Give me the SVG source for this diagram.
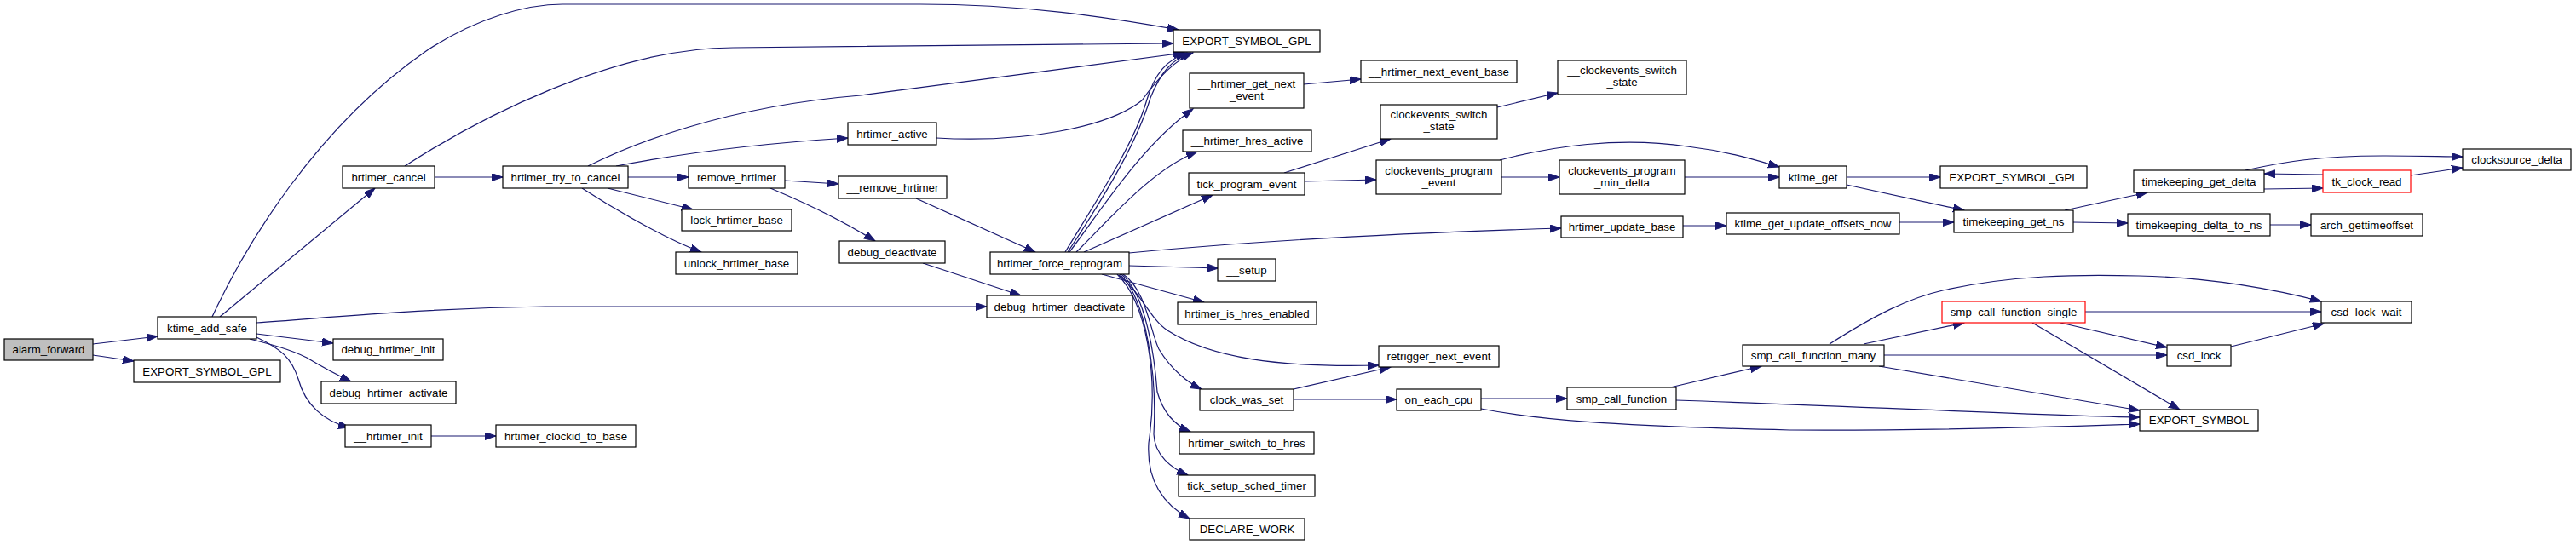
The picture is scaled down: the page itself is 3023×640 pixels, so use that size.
<svg xmlns="http://www.w3.org/2000/svg" width="3023" height="640" viewBox="0 0 3023 640">
<style>
.n rect{fill:#fff;stroke:#000;stroke-width:1.2}
.n.r rect{stroke:#ff0000}
.n.g rect{fill:#bfbfbf}
.n text{font-family:"Liberation Sans",Arial,Helvetica,sans-serif;font-size:13.3px;text-anchor:middle;fill:#000}
#edges path{fill:none;stroke:#191970;stroke-width:1.2;marker-end:url(#a)}
</style>
<defs>
<marker id="a" markerWidth="15" markerHeight="11" refX="13" refY="4.5" orient="auto" markerUnits="userSpaceOnUse"><path d="M0,0 L13,4.5 L0,9 z" fill="#191970" stroke="#191970"/></marker>
</defs>
<rect width="3023" height="640" fill="#fff"/>
<g id="edges">
<path d="M109,404 L185,395"/>
<path d="M109,417 L157,424"/>
<path d="M258,372 L440,221"/>
<path d="M249,372 C287,290 370,150 500,60 C560,20 620,5 660,5 L1080,5 C1200,5 1300,20 1383,35"/>
<path d="M475,195 C560,140 720,56 860,56 C1000,56 1200,52 1377,51"/>
<path d="M510,208 L590,208"/>
<path d="M690,195 C740,170 850,125 1010,112 L1390,62"/>
<path d="M723,195 C800,180 900,168 995,162"/>
<path d="M737,208 L808,208"/>
<path d="M713,221 L813,246"/>
<path d="M683,221 C720,245 780,280 823,296"/>
<path d="M921,212 L984,216"/>
<path d="M904,221 C940,236 990,260 1027,283"/>
<path d="M1099,162 C1200,168 1300,150 1340,118 C1360,90 1380,70 1400,62"/>
<path d="M1075,233 L1215,296"/>
<path d="M1083,309 L1198,347"/>
<path d="M301,379 C400,372 500,362 640,360 L1158,360"/>
<path d="M301,392 L391,403"/>
<path d="M293,398 C320,405 340,410 360,420 C380,432 395,440 412,448"/>
<path d="M301,396 C330,410 342,420 350,445 C358,475 380,495 410,502"/>
<path d="M506,512 L582,512"/>
<path d="M1250,296 C1290,230 1330,170 1345,120 C1355,85 1370,70 1393,62"/>
<path d="M1253,296 C1300,225 1335,165 1350,115 C1362,85 1375,70 1397,62"/>
<path d="M1255,296 C1290,250 1340,170 1400,128"/>
<path d="M1263,296 C1300,260 1350,200 1405,178"/>
<path d="M1272,296 L1423,229"/>
<path d="M1325,297 C1450,285 1600,275 1832,268"/>
<path d="M1325,312 L1430,315"/>
<path d="M1293,322 L1413,355"/>
<path d="M1313,323 C1340,345 1350,375 1370,388 C1420,420 1500,432 1618,429"/>
<path d="M1318,322 C1345,340 1350,390 1360,410 C1375,435 1395,450 1410,457"/>
<path d="M1316,322 C1345,345 1355,420 1358,460 C1365,485 1380,500 1397,507"/>
<path d="M1314,322 C1345,350 1358,440 1354,510 C1355,535 1375,550 1394,558"/>
<path d="M1311,322 C1345,355 1360,440 1348,520 C1345,570 1370,595 1396,609"/>
<path d="M1507,203 L1632,163"/>
<path d="M1531,213 L1615,211"/>
<path d="M1757,126 L1828,109"/>
<path d="M1530,99 L1597,93"/>
<path d="M1762,208 L1830,208"/>
<path d="M1760,188 C1820,172 1900,160 1980,172 C2030,178 2060,188 2088,196"/>
<path d="M1977,208 L2088,208"/>
<path d="M1975,265 L2026,265"/>
<path d="M2167,208 L2277,208"/>
<path d="M2167,217 L2305,247"/>
<path d="M2229,261 L2293,261"/>
<path d="M2423,247 L2520,226"/>
<path d="M2433,261 L2497,262"/>
<path d="M2635,200 C2680,190 2720,183 2800,183 C2840,183 2870,184 2890,184"/>
<path d="M2657,222 L2726,221"/>
<path d="M2726,205 L2657,204"/>
<path d="M2829,206 L2890,197"/>
<path d="M2664,264 L2712,264"/>
<path d="M1518,457 L1632,431"/>
<path d="M1518,469 L1639,469"/>
<path d="M1738,468 L1839,468"/>
<path d="M1738,480 C1800,492 1880,500 2100,505 C2300,506 2450,500 2511,498"/>
<path d="M1967,470 C2200,478 2400,488 2511,490"/>
<path d="M1960,455 L2067,430"/>
<path d="M2187,404 L2305,379"/>
<path d="M2147,404 C2200,370 2240,350 2280,341 C2360,323 2440,322 2510,324 C2600,326 2670,340 2724,354"/>
<path d="M2211,417 L2543,417"/>
<path d="M2205,430 L2511,482"/>
<path d="M2447,366 L2724,366"/>
<path d="M2418,379 L2543,408"/>
<path d="M2385,379 L2558,481"/>
<path d="M2618,407 L2727,380"/>
</g>
<g id="alarm_forward" class="n g"><rect x="5" y="398" width="104" height="25"/><text x="57" y="415">alarm_forward</text></g>
<g id="ktime_add_safe" class="n"><rect x="185" y="372" width="116" height="26"/><text x="243" y="389.5">ktime_add_safe</text></g>
<g id="export_gpl_1" class="n"><rect x="157" y="423" width="172" height="26"/><text x="243" y="440.5">EXPORT_SYMBOL_GPL</text></g>
<g id="hrtimer_cancel" class="n"><rect x="402" y="195" width="108" height="26"/><text x="456" y="212.5">hrtimer_cancel</text></g>
<g id="debug_hrtimer_init" class="n"><rect x="391" y="398" width="129" height="25"/><text x="455.5" y="415">debug_hrtimer_init</text></g>
<g id="debug_hrtimer_activate" class="n"><rect x="377" y="448" width="158" height="26"/><text x="456" y="465.5">debug_hrtimer_activate</text></g>
<g id="__hrtimer_init" class="n"><rect x="405" y="499" width="101" height="26"/><text x="455.5" y="516.5">__hrtimer_init</text></g>
<g id="hrtimer_clockid_to_base" class="n"><rect x="582" y="499" width="164" height="26"/><text x="664" y="516.5">hrtimer_clockid_to_base</text></g>
<g id="hrtimer_try_to_cancel" class="n"><rect x="590" y="195" width="147" height="26"/><text x="663.5" y="212.5">hrtimer_try_to_cancel</text></g>
<g id="remove_hrtimer" class="n"><rect x="808" y="195" width="113" height="26"/><text x="864.5" y="212.5">remove_hrtimer</text></g>
<g id="lock_hrtimer_base" class="n"><rect x="800" y="246" width="129" height="25"/><text x="864.5" y="263">lock_hrtimer_base</text></g>
<g id="unlock_hrtimer_base" class="n"><rect x="793" y="296" width="143" height="26"/><text x="864.5" y="313.5">unlock_hrtimer_base</text></g>
<g id="hrtimer_active" class="n"><rect x="995" y="144" width="104" height="26"/><text x="1047" y="161.5">hrtimer_active</text></g>
<g id="__remove_hrtimer" class="n"><rect x="984" y="207" width="127" height="26"/><text x="1047.5" y="224.5">__remove_hrtimer</text></g>
<g id="debug_deactivate" class="n"><rect x="985" y="283" width="124" height="26"/><text x="1047" y="300.5">debug_deactivate</text></g>
<g id="export_gpl_2" class="n"><rect x="1377" y="35" width="172" height="26"/><text x="1463" y="52.5">EXPORT_SYMBOL_GPL</text></g>
<g id="__hrtimer_get_next_event" class="n"><rect x="1396" y="86" width="134" height="41"/><text x="1463" y="103">__hrtimer_get_next</text><text x="1463" y="117">_event</text></g>
<g id="__hrtimer_hres_active" class="n"><rect x="1388" y="153" width="151" height="25"/><text x="1463.5" y="170">__hrtimer_hres_active</text></g>
<g id="tick_program_event" class="n"><rect x="1395" y="203" width="136" height="26"/><text x="1463" y="220.5">tick_program_event</text></g>
<g id="hrtimer_force_reprogram" class="n"><rect x="1162" y="296" width="163" height="26"/><text x="1243.5" y="313.5">hrtimer_force_reprogram</text></g>
<g id="__setup" class="n"><rect x="1429" y="304" width="68" height="26"/><text x="1463" y="321.5">__setup</text></g>
<g id="debug_hrtimer_deactivate" class="n"><rect x="1158" y="347" width="171" height="26"/><text x="1243.5" y="364.5">debug_hrtimer_deactivate</text></g>
<g id="hrtimer_is_hres_enabled" class="n"><rect x="1382" y="355" width="163" height="26"/><text x="1463.5" y="372.5">hrtimer_is_hres_enabled</text></g>
<g id="clock_was_set" class="n"><rect x="1408" y="457" width="110" height="25"/><text x="1463" y="474">clock_was_set</text></g>
<g id="hrtimer_switch_to_hres" class="n"><rect x="1384" y="507" width="158" height="26"/><text x="1463" y="524.5">hrtimer_switch_to_hres</text></g>
<g id="tick_setup_sched_timer" class="n"><rect x="1383" y="558" width="160" height="25"/><text x="1463" y="575">tick_setup_sched_timer</text></g>
<g id="DECLARE_WORK" class="n"><rect x="1396" y="609" width="135" height="25"/><text x="1463.5" y="626">DECLARE_WORK</text></g>
<g id="__hrtimer_next_event_base" class="n"><rect x="1597" y="71" width="183" height="26"/><text x="1688.5" y="88.5">__hrtimer_next_event_base</text></g>
<g id="__clockevents_switch_state" class="n"><rect x="1828" y="71" width="151" height="40"/><text x="1903.5" y="87">__clockevents_switch</text><text x="1903.5" y="101">_state</text></g>
<g id="clockevents_switch_state" class="n"><rect x="1620" y="123" width="137" height="40"/><text x="1688.5" y="139">clockevents_switch</text><text x="1688.5" y="153">_state</text></g>
<g id="clockevents_program_event" class="n"><rect x="1615" y="188" width="147" height="40"/><text x="1688.5" y="204.5">clockevents_program</text><text x="1688.5" y="218.5">_event</text></g>
<g id="clockevents_program_min_delta" class="n"><rect x="1830" y="188" width="147" height="40"/><text x="1903.5" y="204.5">clockevents_program</text><text x="1903.5" y="218.5">_min_delta</text></g>
<g id="hrtimer_update_base" class="n"><rect x="1832" y="254" width="143" height="25"/><text x="1903.5" y="271">hrtimer_update_base</text></g>
<g id="retrigger_next_event" class="n"><rect x="1618" y="406" width="141" height="25"/><text x="1688.5" y="423">retrigger_next_event</text></g>
<g id="on_each_cpu" class="n"><rect x="1639" y="457" width="99" height="25"/><text x="1688.5" y="474">on_each_cpu</text></g>
<g id="smp_call_function" class="n"><rect x="1839" y="455" width="128" height="26"/><text x="1903" y="472.5">smp_call_function</text></g>
<g id="ktime_get" class="n"><rect x="2088" y="195" width="79" height="26"/><text x="2127.5" y="212.5">ktime_get</text></g>
<g id="export_gpl_3" class="n"><rect x="2277" y="195" width="172" height="26"/><text x="2363" y="212.5">EXPORT_SYMBOL_GPL</text></g>
<g id="ktime_get_update_offsets_now" class="n"><rect x="2026" y="250" width="203" height="25"/><text x="2127.5" y="267">ktime_get_update_offsets_now</text></g>
<g id="timekeeping_get_ns" class="n"><rect x="2293" y="247" width="140" height="26"/><text x="2363" y="264.5">timekeeping_get_ns</text></g>
<g id="timekeeping_get_delta" class="n"><rect x="2504" y="200" width="153" height="26"/><text x="2580.5" y="217.5">timekeeping_get_delta</text></g>
<g id="timekeeping_delta_to_ns" class="n"><rect x="2497" y="251" width="167" height="26"/><text x="2580.5" y="268.5">timekeeping_delta_to_ns</text></g>
<g id="tk_clock_read" class="n r"><rect x="2726" y="200" width="103" height="26"/><text x="2777.5" y="217.5">tk_clock_read</text></g>
<g id="clocksource_delta" class="n"><rect x="2890" y="175" width="127" height="25"/><text x="2953.5" y="192">clocksource_delta</text></g>
<g id="arch_gettimeoffset" class="n"><rect x="2712" y="251" width="131" height="26"/><text x="2777.5" y="268.5">arch_gettimeoffset</text></g>
<g id="smp_call_function_many" class="n"><rect x="2045" y="405" width="166" height="25"/><text x="2128" y="422">smp_call_function_many</text></g>
<g id="smp_call_function_single" class="n r"><rect x="2279" y="354" width="168" height="25"/><text x="2363" y="371">smp_call_function_single</text></g>
<g id="csd_lock_wait" class="n"><rect x="2724" y="354" width="106" height="25"/><text x="2777" y="371">csd_lock_wait</text></g>
<g id="csd_lock" class="n"><rect x="2543" y="405" width="75" height="25"/><text x="2580.5" y="422">csd_lock</text></g>
<g id="EXPORT_SYMBOL" class="n"><rect x="2511" y="481" width="139" height="25"/><text x="2580.5" y="498">EXPORT_SYMBOL</text></g>
</svg>
